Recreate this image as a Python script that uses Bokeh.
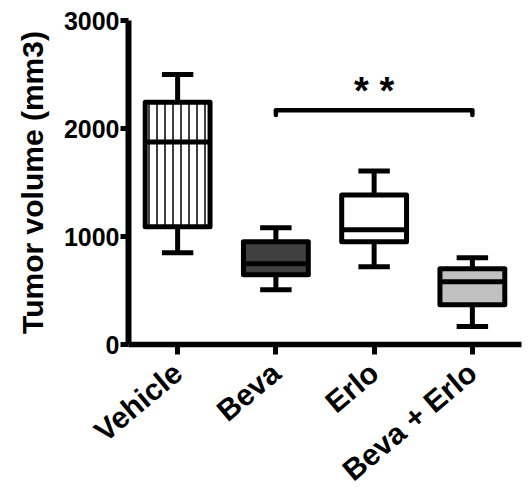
from bokeh.plotting import figure
from bokeh.models import Range1d, FactorRange, ColumnDataSource, FixedTicker
from bokeh.transform import dodge
from bokeh.core.properties import value
from bokeh.embed import file_html
from bokeh.resources import INLINE

# ---- data ----
groups = ["Vehicle", "Beva", "Erlo", "Beva + Erlo"]
whisker_low = [850, 508, 720, 166]
q1 = [1090, 646, 951, 369]
median = [1874, 748, 1062, 582]
q3 = [2244, 951, 1385, 702]
whisker_high = [2500, 1080, 1607, 803]
fills = ["white", "#404040", "white", "#c0c0c0"]
hatches = ["vertical_line", "blank", "blank", "blank"]
y_ticks = [0, 1000, 2000, 3000]
sig_pair = ["Beva", "Beva + Erlo"]
sig_mid = "Erlo"
sig_y = 2170
sig_drop = 45
sig_label = "* *"
y_label = "Tumor volume (mm3)"

FONT = "Liberation Sans"

p = figure(
    width=528, height=502,
    x_range=FactorRange(*groups, range_padding=0),
    y_range=Range1d(0, 3000),
    output_backend="svg", toolbar_location=None,
    min_border_left=128, min_border_right=7,
    min_border_top=20, min_border_bottom=157,
)
p.outline_line_color = None
p.xgrid.grid_line_color = None
p.ygrid.grid_line_color = None
p.background_fill_color = "white"
p.border_fill_color = "white"

src = ColumnDataSource(dict(
    g=groups, lo=whisker_low, q1=q1, med=median, q3=q3, hi=whisker_high,
    fill=fills, hatch=hatches,
))

LW = 5
# whiskers
p.segment(x0="g", x1="g", y0="q3", y1="hi", source=src, line_color="black", line_width=LW)
p.segment(x0="g", x1="g", y0="lo", y1="q1", source=src, line_color="black", line_width=LW)
p.segment(x0=dodge("g", -0.16, range=p.x_range), x1=dodge("g", 0.16, range=p.x_range),
          y0="hi", y1="hi", source=src, line_color="black", line_width=LW)
p.segment(x0=dodge("g", -0.16, range=p.x_range), x1=dodge("g", 0.16, range=p.x_range),
          y0="lo", y1="lo", source=src, line_color="black", line_width=LW)
# boxes
p.vbar(x="g", width=0.66, bottom="q1", top="q3", source=src,
       fill_color="fill", line_color="black", line_width=LW, line_join="round",
       hatch_pattern="hatch", hatch_color="black", hatch_scale=8, hatch_weight=1.5)
# medians
p.segment(x0=dodge("g", -0.33, range=p.x_range), x1=dodge("g", 0.33, range=p.x_range),
          y0="med", y1="med", source=src, line_color="black", line_width=LW)

# significance bracket
p.segment(x0=[sig_pair[0]], x1=[sig_pair[1]], y0=[sig_y], y1=[sig_y],
          line_color="black", line_width=4.5)
p.segment(x0=sig_pair, x1=sig_pair, y0=[sig_y, sig_y], y1=[sig_y - sig_drop, sig_y - sig_drop],
          line_color="black", line_width=4.5, line_cap="round")
p.text(x=[sig_mid], y=[sig_y], text=[sig_label], text_align="center",
       text_baseline="alphabetic", y_offset=-19,
       text_font=value(FONT), text_font_style="bold",
       text_font_size="38px", text_color="black")

# axes
for ax in (p.xaxis, p.yaxis):
    ax.axis_line_color = "black"
    ax.major_tick_line_color = "black"
    ax.major_tick_in = 0
    ax.minor_tick_line_color = None
    ax.major_label_text_font = FONT
    ax.major_label_text_font_style = "bold"
    ax.major_label_text_color = "black"

p.yaxis.ticker = FixedTicker(ticks=y_ticks)
p.yaxis.axis_line_width = 6
p.yaxis.major_tick_line_width = 5
p.yaxis.major_tick_out = 8
p.yaxis.major_label_text_font_size = "25px"
p.yaxis.major_label_standoff = 1
p.yaxis.axis_label = y_label
p.yaxis.axis_label_text_font = FONT
p.yaxis.axis_label_text_font_style = "bold"
p.yaxis.axis_label_text_font_size = "30px"
p.yaxis.axis_label_text_color = "black"
p.yaxis.axis_label_standoff = 12

p.xaxis.axis_line_width = 5.5
p.xaxis.major_tick_line_width = 5
p.xaxis.major_tick_out = 10
p.xaxis.major_label_orientation = 0.70
p.xaxis.major_label_text_font_size = "30px"
p.xaxis.major_label_standoff = 14

open("out.html", "w").write(file_html(p, INLINE))
